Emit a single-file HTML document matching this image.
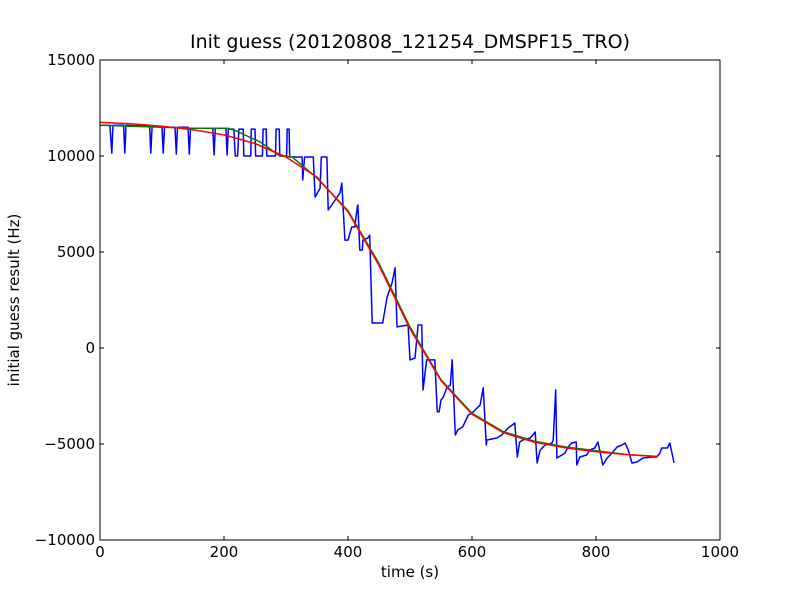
<!DOCTYPE html>
<html><head><meta charset="utf-8"><style>
body{margin:0;background:#fff;}
svg text{font-family:"DejaVu Sans","Liberation Sans",sans-serif;fill:#000;}
</style></head><body>
<svg id="chart" width="800" height="600" xmlns="http://www.w3.org/2000/svg">
<rect width="800" height="600" fill="#fff"/>
<text x="410" y="48" font-size="19" text-anchor="middle">Init guess (20120808_121254_DMSPF15_TRO)</text>
<text x="410" y="577" font-size="15" text-anchor="middle">time (s)</text>
<text x="19" y="300" font-size="15" text-anchor="middle" transform="rotate(-90 19 300)">initial guess result (Hz)</text>
<g id="ticks"></g>
<g id="series"></g>
<rect x="100" y="60" width="620" height="480" fill="none" stroke="#000" stroke-width="1"/>
</svg>
<script>
const xTicks=[0,200,400,600,800,1000];
const yTicks=[-10000,-5000,0,5000,10000,15000];
const yTickLabels=["\u221210000","\u22125000","0","5000","10000","15000"];
const blueT=[0,16,19,21,38,40,42,80,82,84,100,102,104,121,123,125,142,144,146,182,184,186,203,205,207,216,218,222,224,231,232,243,244,250,251,262,263,268,269,283,284,289,290,301,302,305,306,326,327,330,344,347,355,357,366,368,376,387,390,392,395,400,406,411,415,416,419,423,424,432,435,439,456,463,471,476,479,497,500,508,513,519,521,527,540,544,547,550,553,560,565,568,573,577,585,594,600,605,613,618,623,624,640,648,658,665,669,673,677,682,694,702,705,710,718,729,731,735,737,745,750,755,761,768,769,774,785,790,798,803,806,811,818,826,834,842,847,852,858,866,876,890,898,903,906,915,919,926];
const blueF=[11600,11600,10150,11600,11600,10150,11600,11550,10150,11550,11500,10150,11500,11500,10100,11500,11500,10100,11450,11450,10050,11450,11450,10050,11400,11400,10000,10000,11400,11400,10000,10000,11400,11400,10000,10000,11400,11400,10000,10000,11400,11400,10000,10000,11400,11400,9950,9950,8750,9950,9950,7860,8330,9950,9950,7190,7550,8070,8590,7450,5620,5620,6300,6300,7340,7450,5100,5100,5620,5730,5880,1300,1300,2650,3380,4170,1100,1200,-620,-520,1200,1200,-2190,-620,-620,-3330,-3330,-2710,-2600,-2030,-1930,-620,-4530,-4270,-4110,-3490,-3380,-3230,-2970,-2080,-5050,-4790,-4690,-4530,-4170,-4010,-3906,-5677,-4896,-4792,-4688,-4375,-5990,-5313,-5052,-4948,-4792,-2188,-5729,-5573,-5469,-5156,-4948,-4896,-6094,-5677,-5573,-5313,-5208,-4896,-5313,-6094,-5729,-5469,-5156,-5052,-4948,-5313,-5990,-5938,-5729,-5677,-5677,-5469,-5208,-5208,-4948,-5990];
const greenT=[0,50,100,150,206,220,260,290,310,350,400,450,500,550,600,650,700,750,800,850,900];
const greenF=[11600,11550,11500,11450,11450,11300,10700,10000,9950,8850,7150,4400,1100,-1650,-3400,-4350,-4850,-5150,-5350,-5550,-5650];
const redT=[0,50,100,150,200,250,300,350,400,450,500,550,600,650,700,750,800,850,900];
const redF=[11750,11680,11550,11370,11100,10650,9950,8900,7100,4300,1000,-1700,-3450,-4400,-4900,-5200,-5400,-5550,-5650];

const NS="http://www.w3.org/2000/svg";
const X=t=>100+t*620/1000;
const Y=f=>540-(f+10000)*480/25000;
const tg=document.getElementById('ticks');
function mk(tag,attrs,parent){const e=document.createElementNS(NS,tag);for(const k in attrs)e.setAttribute(k,attrs[k]);parent.appendChild(e);return e;}
xTicks.forEach(v=>{
  const x=X(v);
  const l1=mk('line',{x1:x,x2:x,y1:540,y2:536,stroke:'#000'},tg);
  
  
  const l2=mk('line',{x1:x,x2:x,y1:60,y2:64,stroke:'#000'},tg);
  
  
  const t=mk('text',{x:x,y:557,'font-size':15,'text-anchor':'middle'},tg);
  t.textContent=String(v);
  
  
});
yTicks.forEach((v,i)=>{
  const y=Y(v);
  const l1=mk('line',{x1:100,x2:104,y1:y,y2:y,stroke:'#000'},tg);
  
  
  const l2=mk('line',{x1:716,x2:720,y1:y,y2:y,stroke:'#000'},tg);
  
  
  const t=mk('text',{x:95,y:y+5,'font-size':15,'text-anchor':'end'},tg);
  t.textContent=yTickLabels[i];
  
  
});
const sg=document.getElementById('series');
function line(ts,fs,color){
  const pts=ts.map((t,i)=>X(t).toFixed(1)+','+Y(fs[i]).toFixed(1)).join(' ');
  return mk('polyline',{points:pts,fill:'none',stroke:color,'stroke-width':1.5,'stroke-linejoin':'round'},sg);
}
const b=line(blueT,blueF,'#0000ff');


const g=line(greenT,greenF,'#008000');


const r=line(redT,redF,'#ff0000');


</script>
</body></html>
